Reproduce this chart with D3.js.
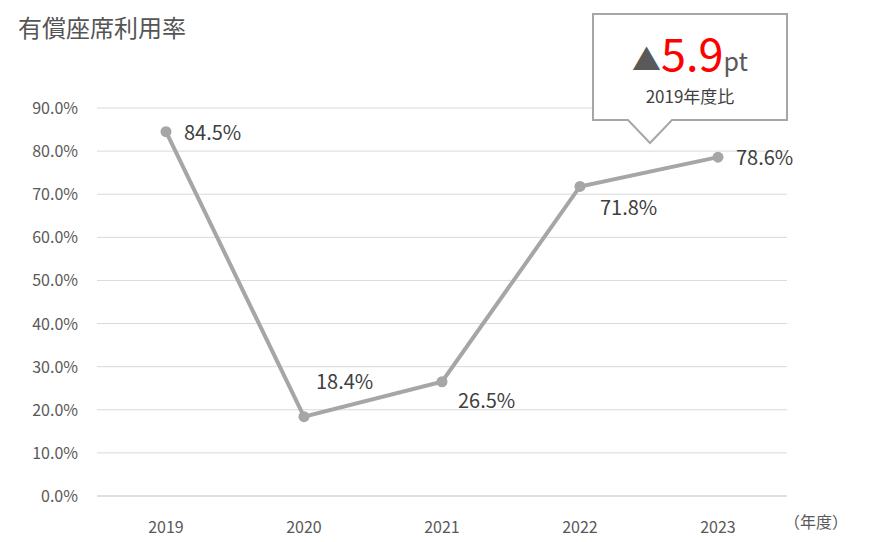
<!DOCTYPE html>
<html><head><meta charset="utf-8">
<script src="https://cdn.jsdelivr.net/npm/d3@7"></script>
<style>body{margin:0;background:#fff;font-family:"Noto Sans CJK JP","Noto Sans",sans-serif;}</style>
</head><body><svg id="c" width="879" height="542"></svg>
<script>
const years = ["2019","2020","2021","2022","2023"];
const rates = [84.5,18.4,26.5,71.8,78.6];
const yTicks = [0,10,20,30,40,50,60,70,80,90];
const labelOffsets = [[18,8],[12,-28],[16,26],[20,29],[18,8]];

const svg = d3.select("#c");
const x = d3.scaleBand().domain(years).range([97,787]);
const y = d3.scaleLinear().domain([0,90]).range([496,108]);
const cx = d => x(d)+x.bandwidth()/2;

svg.append("text").attr("x",18).attr("y",37).attr("font-size",24).attr("fill","#555").text("有償座席利用率");

svg.selectAll(".g").data(yTicks).join("line")
  .attr("x1",97).attr("x2",787).attr("y1",d=>y(d)).attr("y2",d=>y(d))
  .attr("stroke",d=>d===0?"#bfbfbf":"#d9d9d9").attr("stroke-width",1);
svg.selectAll(".yl").data(yTicks).join("text")
  .attr("x",78).attr("y",d=>y(d)+6).attr("text-anchor","end")
  .attr("font-size",16).attr("fill","#595959").text(d=>d.toFixed(1)+"%");
svg.selectAll(".xl").data(years).join("text")
  .attr("x",d=>cx(d)).attr("y",533).attr("text-anchor","middle")
  .attr("font-size",16).attr("fill","#595959").text(d=>d);
svg.append("text").attr("x",784).attr("y",528).attr("font-size",16).attr("fill","#595959").text("（年度）");

const line = d3.line().x((d,i)=>cx(years[i])).y(d=>y(d));
svg.append("path").attr("d",line(rates)).attr("fill","none").attr("stroke","#a6a6a6").attr("stroke-width",4);
svg.selectAll(".pt").data(rates).join("circle")
  .attr("cx",(d,i)=>cx(years[i])).attr("cy",d=>y(d)).attr("r",5.5).attr("fill","#a6a6a6");
svg.selectAll(".lb").data(rates).join("text")
  .attr("x",(d,i)=>cx(years[i])+labelOffsets[i][0]).attr("y",(d,i)=>y(d)+labelOffsets[i][1])
  .attr("font-size",20).attr("fill","#404040").text(d=>d.toFixed(1)+"%");

// callout
svg.append("path").attr("d","M593,14 H787 V120 H672 L650,143 L628,120 H593 Z")
  .attr("fill","#fff").attr("stroke","#a6a6a6").attr("stroke-width",2);
const t = svg.append("text").attr("x",690).attr("y",71).attr("text-anchor","middle");
t.append("tspan").attr("font-size",29).attr("fill","#595959").text("▲");
t.append("tspan").attr("font-size",45).attr("fill","#ff0000").text("5.9");
t.append("tspan").attr("font-size",25).attr("fill","#595959").text("pt");
svg.append("text").attr("x",690).attr("y",103).attr("text-anchor","middle").attr("font-size",17).attr("fill","#404040").text("2019年度比");
</script></body></html>
